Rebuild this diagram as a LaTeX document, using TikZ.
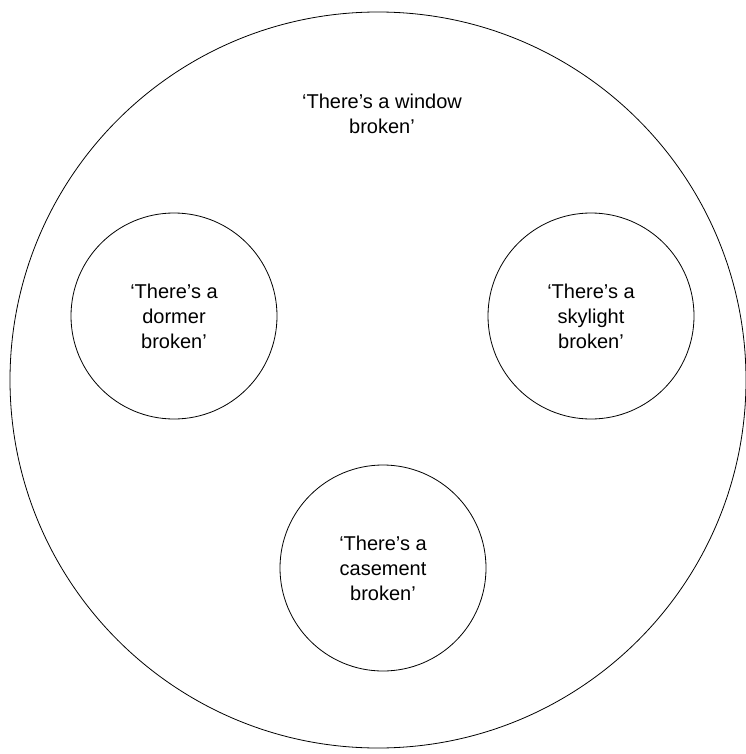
\documentclass[tikz,border=0pt]{standalone}
\usepackage{fontspec}
\setmainfont{Liberation Sans}
\usetikzlibrary{shapes,positioning,calc}

\begin{document}
\begin{tikzpicture}[x=1pt,y=-1pt,
    bubble/.style={circle,draw,line width=0.8pt,minimum size=206pt,inner sep=0pt},
    saying/.style={align=center,font=\fontsize{20}{25}\selectfont}]
    \useasboundingbox (0,0) rectangle (745,754);

    \node[circle,draw,line width=0.8pt,minimum size=736pt,inner sep=0pt] (window) at (378, 380) {};
    \node[saying] (windowtext) at (382, 114) {`There's a window\\broken'};

    \node[bubble,saying] (dormer) at (174, 316) {`There's a\\dormer\\broken'};
    \node[bubble,saying] (skylight) at (591, 316) {`There's a\\skylight\\broken'};
    \node[bubble,saying] (casement) at (383, 568) {`There's a\\casement\\broken'};
\end{tikzpicture}
\end{document}
